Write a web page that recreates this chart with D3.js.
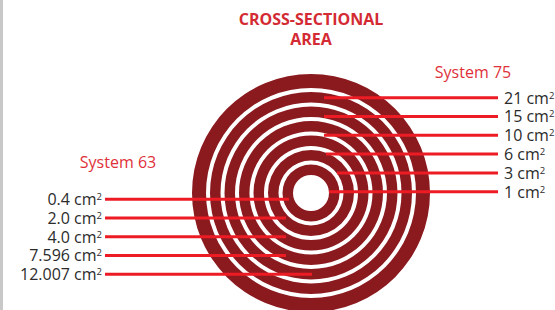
<!DOCTYPE html>
<html>
<head>
<meta charset="utf-8">
<script src="https://cdn.jsdelivr.net/npm/d3@7"></script>
<style>
  body { margin: 0; background: #fff; }
  svg { display: block; }
</style>
</head>
<body>
<div id="chart"></div>
<script>
// data
const titleLines = ["CROSS-SECTIONAL", "AREA"];
const rings = [0, 1, 2, 3, 4, 5, 6];           // innermost -> outermost
const system75Values = ["21", "15", "10", "6", "3", "1"];
const system63Values = ["0.4", "2.0", "4.0", "7.596", "12.007"];
const unit = "cm";

// layout
const width = 555, height = 310;
const cx = 311, cy = 193;
const leaderReach75 = [13, 13, 13, 15, 26, 18];   // where each leader stops, from centre
const leaderReach63 = [-22, -25, -25, -25, 1];

const ringDark = "#8b1a1f";
const leaderRed = "#ed1c24";
const labelRed = "#e0313a";

const svg = d3.select("#chart")
    .append("svg")
    .attr("width", width)
    .attr("height", height);

// grey strip at left edge
svg.append("rect")
    .attr("x", 0).attr("y", 0)
    .attr("width", 3).attr("height", height)
    .attr("fill", "#c8c8c8");

// title
svg.append("g")
    .selectAll("text")
    .data(titleLines)
    .join("text")
    .attr("x", 311)
    .attr("y", (d, i) => 25 + i * 20)
    .attr("text-anchor", "middle")
    .attr("font-family", "Open Sans, sans-serif")
    .attr("font-weight", 700)
    .attr("font-size", 16)
    .attr("fill", "#d42a33")
    .text(d => d);

// rings
const rInner = d3.scaleLinear().domain([0, 6]).range([18, 105]);
const arc = d3.arc()
    .innerRadius(d => rInner(d))
    .outerRadius(d => d === 6 ? 119 : rInner(d) + 10.5)
    .startAngle(0)
    .endAngle(2 * Math.PI);

svg.append("g")
    .attr("transform", `translate(${cx},${cy})`)
    .selectAll("path")
    .data(rings)
    .join("path")
    .attr("d", arc)
    .attr("fill", ringDark);

// y positions of leaders
const y75 = d3.scalePoint().domain(system75Values).range([97.7, 191.7]);
const y63 = d3.scalePoint().domain(system63Values).range([199.3, 274.3]);

function labelText(sel) {
    sel.append("tspan").text(d => `${d} ${unit}`);
    sel.append("tspan")
        .attr("font-size", 9.5)
        .attr("dy", -5)
        .text("2");
}

// System 75 (right)
const right = svg.append("g");
right.selectAll("line")
    .data(system75Values)
    .join("line")
    .attr("x1", (d, i) => cx + leaderReach75[i])
    .attr("x2", 498)
    .attr("y1", d => y75(d))
    .attr("y2", d => y75(d))
    .attr("stroke", leaderRed)
    .attr("stroke-width", 3);

right.selectAll("text")
    .data(system75Values)
    .join("text")
    .attr("x", 504)
    .attr("y", d => y75(d) + 5.8)
    .attr("font-family", "Open Sans, sans-serif")
    .attr("font-size", 16)
    .attr("fill", "#2b2b2b")
    .call(labelText);

svg.append("text")
    .attr("x", 473).attr("y", 78)
    .attr("text-anchor", "middle")
    .attr("font-family", "Open Sans, sans-serif")
    .attr("font-size", 16)
    .attr("fill", labelRed)
    .text("System 75");

// System 63 (left)
const left = svg.append("g");
left.selectAll("line")
    .data(system63Values)
    .join("line")
    .attr("x1", 105)
    .attr("x2", (d, i) => cx + leaderReach63[i])
    .attr("y1", d => y63(d))
    .attr("y2", d => y63(d))
    .attr("stroke", leaderRed)
    .attr("stroke-width", 3);

left.selectAll("text")
    .data(system63Values)
    .join("text")
    .attr("x", 102)
    .attr("y", d => y63(d) + 5.8)
    .attr("text-anchor", "end")
    .attr("font-family", "Open Sans, sans-serif")
    .attr("font-size", 16)
    .attr("fill", "#2b2b2b")
    .call(labelText);

svg.append("text")
    .attr("x", 118).attr("y", 168)
    .attr("text-anchor", "middle")
    .attr("font-family", "Open Sans, sans-serif")
    .attr("font-size", 16)
    .attr("fill", labelRed)
    .text("System 63");
</script>
</body>
</html>
